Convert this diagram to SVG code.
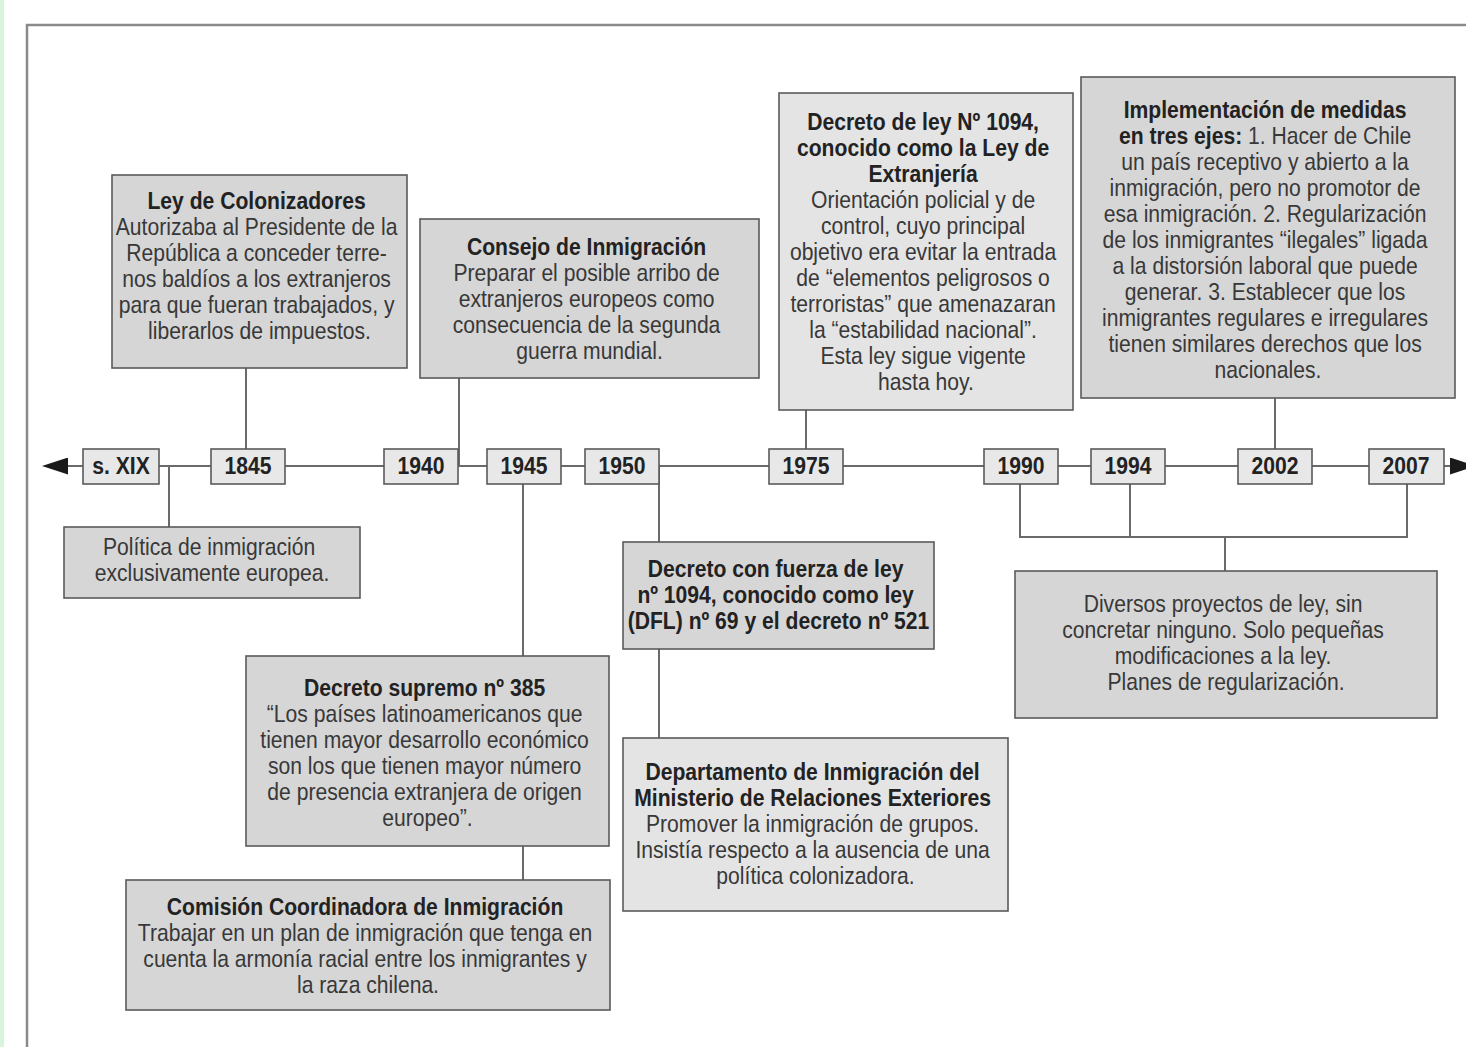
<svg xmlns="http://www.w3.org/2000/svg" width="1466" height="1047" viewBox="0 0 1466 1047">
<style>
.box{fill:#d6d6d6;stroke:#5a5a5a;stroke-width:1.6}
.lt{fill:#e4e4e4}
.yr{fill:#e8e8e8;stroke:#5a5a5a;stroke-width:1.6}
.ln{stroke:#6a6a6a;stroke-width:2;fill:none}
text{font-family:"Liberation Sans",Arial,sans-serif;font-size:24px;fill:#383838;text-anchor:middle}
.b{font-weight:bold;fill:#222}
.y{font-weight:bold;fill:#222}
</style>
<defs>
<marker id="arr" markerUnits="userSpaceOnUse" markerWidth="27" markerHeight="17" refX="0" refY="8.5" orient="auto-start-reverse">
<path d="M0,0 L26,8.5 L0,17 z" fill="#1a1a1a"/>
</marker>
</defs>
<rect x="0" y="0" width="1466" height="1047" fill="#fff"/>
<rect x="0" y="0" width="4" height="1047" fill="#d8f5dc"/>
<path d="M27,1047 V25 H1466" fill="none" stroke="#8a8a8a" stroke-width="2.5"/>

<g id="connectors">
<line class="ln" x1="68" y1="466" x2="1450" y2="466" marker-start="url(#arr)" marker-end="url(#arr)"/>
<line class="ln" x1="169" y1="466" x2="169" y2="527"/>
<line class="ln" x1="246" y1="368" x2="246" y2="449"/>
<line class="ln" x1="459" y1="378" x2="459" y2="466"/>
<line class="ln" x1="523" y1="484" x2="523" y2="656"/>
<line class="ln" x1="523" y1="846" x2="523" y2="880"/>
<line class="ln" x1="659" y1="466" x2="659" y2="542"/>
<line class="ln" x1="659" y1="649" x2="659" y2="738"/>
<line class="ln" x1="806" y1="410" x2="806" y2="449"/>
<line class="ln" x1="1275" y1="398" x2="1275" y2="449"/>
<path class="ln" d="M1020,484 V537 H1407 V484 M1130,484 V537 M1225,537 V571"/>
</g>

<g id="year-sxix"><rect class="yr" x="83" y="449" width="76" height="35"/><text class="y" transform="translate(121 0) scale(0.88 1)" x="0" y="474">s. XIX</text></g>
<g id="year-1845"><rect class="yr" x="211" y="449" width="74" height="35"/><text class="y" transform="translate(248 0) scale(0.88 1)" x="0" y="474">1845</text></g>
<g id="year-1940"><rect class="yr" x="384" y="449" width="74" height="35"/><text class="y" transform="translate(421 0) scale(0.88 1)" x="0" y="474">1940</text></g>
<g id="year-1945"><rect class="yr" x="487" y="449" width="74" height="35"/><text class="y" transform="translate(524 0) scale(0.88 1)" x="0" y="474">1945</text></g>
<g id="year-1950"><rect class="yr" x="585" y="449" width="74" height="35"/><text class="y" transform="translate(622 0) scale(0.88 1)" x="0" y="474">1950</text></g>
<g id="year-1975"><rect class="yr" x="769" y="449" width="74" height="35"/><text class="y" transform="translate(806 0) scale(0.88 1)" x="0" y="474">1975</text></g>
<g id="year-1990"><rect class="yr" x="984" y="449" width="74" height="35"/><text class="y" transform="translate(1021 0) scale(0.88 1)" x="0" y="474">1990</text></g>
<g id="year-1994"><rect class="yr" x="1091" y="449" width="74" height="35"/><text class="y" transform="translate(1128 0) scale(0.88 1)" x="0" y="474">1994</text></g>
<g id="year-2002"><rect class="yr" x="1238" y="449" width="74" height="35"/><text class="y" transform="translate(1275 0) scale(0.88 1)" x="0" y="474">2002</text></g>
<g id="year-2007"><rect class="yr" x="1369" y="449" width="75" height="35"/><text class="y" transform="translate(1406 0) scale(0.88 1)" x="0" y="474">2007</text></g>

<g id="ley-colonizadores"><rect class="box" x="112" y="175" width="295" height="193"/>
<text transform="translate(259.5 0) scale(0.88 1)">
<tspan class="b" x="0" y="209">Ley de Colonizadores</tspan>
<tspan x="0" y="235">Autorizaba al Presidente de la</tspan>
<tspan x="0" y="261">República a conceder terre-</tspan>
<tspan x="0" y="287">nos baldíos a los extranjeros</tspan>
<tspan x="0" y="313">para que fueran trabajados, y</tspan>
<tspan x="0" y="339">liberarlos de impuestos.</tspan>
</text></g>

<g id="consejo-inmigracion"><rect class="box" x="420" y="219" width="339" height="159"/>
<text transform="translate(589.5 0) scale(0.88 1)">
<tspan class="b" x="0" y="255">Consejo de Inmigración</tspan>
<tspan x="0" y="281">Preparar el posible arribo de</tspan>
<tspan x="0" y="307">extranjeros europeos como</tspan>
<tspan x="0" y="333">consecuencia de la segunda</tspan>
<tspan x="0" y="359">guerra mundial.</tspan>
</text></g>

<g id="decreto-ley-1094"><rect class="box lt" x="779" y="93" width="294" height="317"/>
<text transform="translate(926 0) scale(0.88 1)">
<tspan class="b" x="0" y="130">Decreto de ley Nº 1094,</tspan>
<tspan class="b" x="0" y="156">conocido como la Ley de</tspan>
<tspan class="b" x="0" y="182">Extranjería</tspan>
<tspan x="0" y="208">Orientación policial y de</tspan>
<tspan x="0" y="234">control, cuyo principal</tspan>
<tspan x="0" y="260">objetivo era evitar la entrada</tspan>
<tspan x="0" y="286">de “elementos peligrosos o</tspan>
<tspan x="0" y="312">terroristas” que amenazaran</tspan>
<tspan x="0" y="338">la “estabilidad nacional”.</tspan>
<tspan x="0" y="364">Esta ley sigue vigente</tspan>
<tspan x="0" y="390">hasta hoy.</tspan>
</text></g>

<g id="implementacion"><rect class="box" x="1081" y="77" width="374" height="321"/>
<text transform="translate(1268 0) scale(0.88 1)">
<tspan class="b" x="0" y="118">Implementación de medidas</tspan>
<tspan x="0" y="144"><tspan class="b">en tres ejes:</tspan> 1. Hacer de Chile</tspan>
<tspan x="0" y="170">un país receptivo y abierto a la</tspan>
<tspan x="0" y="196">inmigración, pero no promotor de</tspan>
<tspan x="0" y="222">esa inmigración. 2. Regularización</tspan>
<tspan x="0" y="248">de los inmigrantes “ilegales” ligada</tspan>
<tspan x="0" y="274">a la distorsión laboral que puede</tspan>
<tspan x="0" y="300">generar. 3. Establecer que los</tspan>
<tspan x="0" y="326">inmigrantes regulares e irregulares</tspan>
<tspan x="0" y="352">tienen similares derechos que los</tspan>
<tspan x="0" y="378">nacionales.</tspan>
</text></g>

<g id="politica"><rect class="box" x="64" y="527" width="296" height="71"/>
<text transform="translate(212 0) scale(0.88 1)">
<tspan x="0" y="555">Política de inmigración</tspan>
<tspan x="0" y="581">exclusivamente europea.</tspan>
</text></g>

<g id="decreto-supremo-385"><rect class="box" x="246" y="656" width="363" height="190"/>
<text transform="translate(427.5 0) scale(0.88 1)">
<tspan class="b" x="0" y="696">Decreto supremo nº 385</tspan>
<tspan x="0" y="722">“Los países latinoamericanos que</tspan>
<tspan x="0" y="748">tienen mayor desarrollo económico</tspan>
<tspan x="0" y="774">son los que tienen mayor número</tspan>
<tspan x="0" y="800">de presencia extranjera de origen</tspan>
<tspan x="0" y="826">europeo”.</tspan>
</text></g>

<g id="comision"><rect class="box" x="126" y="880" width="484" height="130"/>
<text transform="translate(368 0) scale(0.88 1)">
<tspan class="b" x="0" y="915">Comisión Coordinadora de Inmigración</tspan>
<tspan x="0" y="941">Trabajar en un plan de inmigración que tenga en</tspan>
<tspan x="0" y="967">cuenta la armonía racial entre los inmigrantes y</tspan>
<tspan x="0" y="993">la raza chilena.</tspan>
</text></g>

<g id="decreto-fuerza-ley"><rect class="box" x="623" y="542" width="311" height="107"/>
<text transform="translate(778.5 0) scale(0.88 1)">
<tspan class="b" x="0" y="577">Decreto con fuerza de ley</tspan>
<tspan class="b" x="0" y="603">nº 1094, conocido como ley</tspan>
<tspan class="b" x="0" y="629">(DFL) nº 69 y el decreto nº 521</tspan>
</text></g>

<g id="departamento"><rect class="box lt" x="623" y="738" width="385" height="173"/>
<text transform="translate(815.5 0) scale(0.88 1)">
<tspan class="b" x="0" y="780">Departamento de Inmigración del</tspan>
<tspan class="b" x="0" y="806">Ministerio de Relaciones Exteriores</tspan>
<tspan x="0" y="832">Promover la inmigración de grupos.</tspan>
<tspan x="0" y="858">Insistía respecto a la ausencia de una</tspan>
<tspan x="0" y="884">política colonizadora.</tspan>
</text></g>

<g id="diversos"><rect class="box" x="1015" y="571" width="422" height="147"/>
<text transform="translate(1226 0) scale(0.88 1)">
<tspan x="0" y="612">Diversos proyectos de ley, sin</tspan>
<tspan x="0" y="638">concretar ninguno. Solo pequeñas</tspan>
<tspan x="0" y="664">modificaciones a la ley.</tspan>
<tspan x="0" y="690">Planes de regularización.</tspan>
</text></g>
</svg>
